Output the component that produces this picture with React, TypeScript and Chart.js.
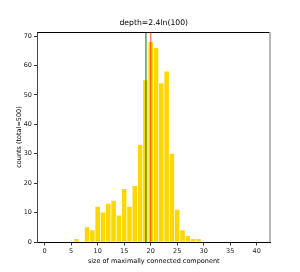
import React, { useEffect, useRef } from 'react';
import { Chart, registerables } from 'chart.js';

Chart.register(...registerables);

const titleText = 'depth=2.4ln(100)';
const xLabel = 'size of maximally connected component';
const yLabel = 'counts (total=500)';

const sizes = [6, 7, 8, 9, 10, 11, 12, 13, 14, 15, 16, 17, 18, 19, 20, 21, 22, 23, 24, 25, 26, 27, 28, 29];
const counts = [1, 0, 5, 4, 12, 10, 13, 14, 9, 18, 12, 19, 33, 55, 68, 66, 54, 58, 30, 11, 4, 2, 1, 1];

const xTicks = [0, 5, 10, 15, 20, 25, 30, 35, 40];
const yTicks = [0, 10, 20, 30, 40, 50, 60, 70];

const xMin = -1.35;
const xMax = 42.5;
const yMax = 71.4;

const greenLine = 19.1;
const redLine = 20;

const FONT = 'DejaVu Sans';

export default function App() {
  const ref = useRef<HTMLCanvasElement | null>(null);

  useEffect(() => {
    if (!ref.current) return;

    const linesPlugin = {
      id: 'vlinesAndFrame',
      afterDatasetsDraw(chart: any) {
        const { ctx, chartArea, scales } = chart;
        const x = scales.x;
        ctx.save();
        const drawV = (v: number, color: string, w: number) => {
          const px = x.getPixelForValue(v);
          ctx.strokeStyle = color;
          ctx.lineWidth = w;
          ctx.beginPath();
          ctx.moveTo(px, chartArea.top);
          ctx.lineTo(px, chartArea.bottom);
          ctx.stroke();
        };
        drawV(greenLine, 'rgba(0,128,0,0.7)', 1.5);
        drawV(redLine, 'rgba(255,0,0,0.5)', 1.5);
        // top spine
        ctx.strokeStyle = '#000';
        ctx.lineWidth = 1;
        ctx.beginPath();
        ctx.moveTo(chartArea.left, chartArea.top + 0.5);
        ctx.lineTo(chartArea.right, chartArea.top + 0.5);
        ctx.stroke();
        // right spine
        ctx.strokeStyle = '#a8a8a8';
        ctx.lineWidth = 1.6;
        ctx.beginPath();
        ctx.moveTo(chartArea.right, chartArea.top);
        ctx.lineTo(chartArea.right, chartArea.bottom);
        ctx.stroke();
        // title centred over the axes
        ctx.fillStyle = '#000';
        ctx.font = `7.7px "${FONT}"`;
        ctx.textAlign = 'center';
        ctx.textBaseline = 'middle';
        ctx.fillText(titleText, (chartArea.left + chartArea.right) / 2, chartArea.top - 8.5);
        ctx.restore();
      },
    };

    const chart = new Chart(ref.current, {
      type: 'bar',
      data: {
        datasets: [
          {
            data: sizes.map((s, i) => ({ x: s, y: counts[i] })),
            backgroundColor: '#FFD700',
            borderWidth: 0,
            barPercentage: 0.86,
            categoryPercentage: 1,
          },
        ],
      },
      options: {
        animation: false,
        responsive: true,
        maintainAspectRatio: false,
        layout: { padding: { left: 0, right: 30, top: 32, bottom: 0 } },
        plugins: {
          legend: { display: false },
          tooltip: { enabled: false },
          title: { display: false },
        },
        scales: {
          x: {
            type: 'linear',
            min: xMin,
            max: xMax,
            offset: false,
            afterBuildTicks: (s: any) => {
              s.ticks = xTicks.map((v) => ({ value: v }));
            },
            afterFit: (s: any) => {
              s.height = 30;
            },
            grid: {
              offset: false,
              drawOnChartArea: false,
              drawTicks: true,
              tickLength: 3.5,
              tickColor: '#000',
              tickWidth: 0.8,
            },
            border: { display: true, color: '#000', width: 1 },
            ticks: {
              color: '#222',
              padding: 2,
              maxRotation: 0,
              font: { family: FONT, size: 6.5 },
            },
            title: {
              display: true,
              text: xLabel,
              color: '#000',
              font: { family: FONT, size: 6.5 },
              padding: { top: 0, bottom: 6.5 },
            },
          },
          y: {
            type: 'linear',
            min: 0,
            max: yMax,
            afterBuildTicks: (s: any) => {
              s.ticks = yTicks.map((v) => ({ value: v }));
            },
            afterFit: (s: any) => {
              s.width = 37.5;
            },
            grid: {
              drawOnChartArea: false,
              drawTicks: true,
              tickLength: 3.5,
              tickColor: '#000',
              tickWidth: 0.8,
            },
            border: { display: true, color: '#444', width: 1 },
            ticks: {
              color: '#222',
              padding: 2,
              font: { family: FONT, size: 6.5 },
            },
            title: {
              display: true,
              text: yLabel,
              color: '#000',
              font: { family: FONT, size: 6.5 },
              padding: { top: 15, bottom: 0 },
            },
          },
        },
      },
      plugins: [linesPlugin],
    } as any);

    return () => chart.destroy();
  }, []);

  return (
    <div style={{ position: 'fixed', left: 0, top: 0, width: 300, height: 272, background: '#fff' }}>
      <canvas ref={ref} />
    </div>
  );
}
